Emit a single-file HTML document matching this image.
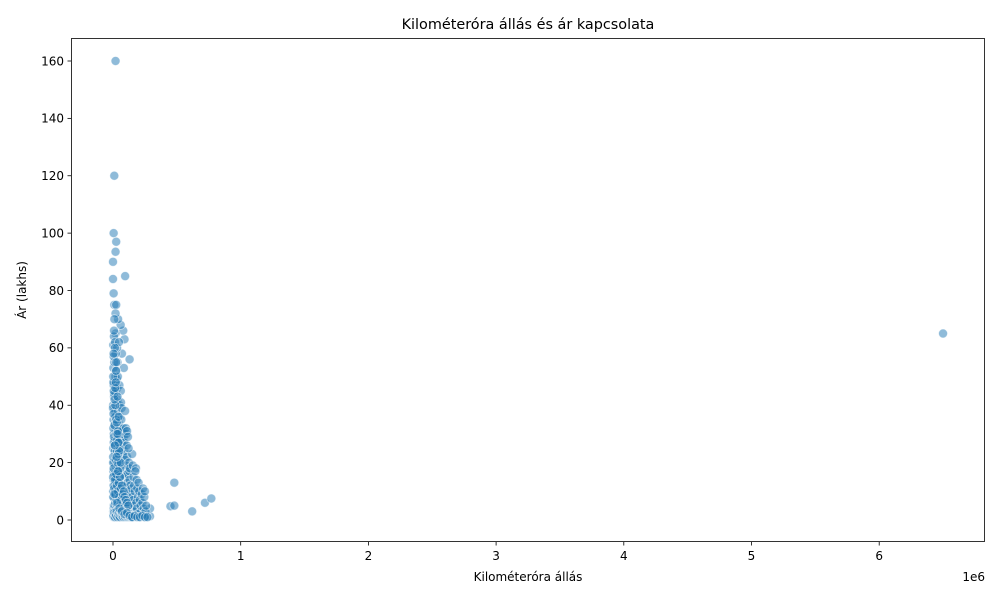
<!DOCTYPE html>
<html><head><meta charset="utf-8"><style>
body{margin:0;background:#fff;font-family:"Liberation Sans","DejaVu Sans",sans-serif}
text{font-family:"DejaVu Sans","Liberation Sans",sans-serif;fill:#000}
</style></head><body>
<svg id="chart" width="1000" height="600" xmlns="http://www.w3.org/2000/svg">
<rect width="1000" height="600" fill="#fff"/>
<text x="528" y="29" font-size="14.4" text-anchor="middle">Kilométeróra állás és ár kapcsolata</text>
<g id="marks"></g>
<rect x="71.5" y="38.5" width="913" height="503" fill="none" stroke="#000" stroke-width="0.8"/>
<g id="axes"></g>
<text x="528" y="581" font-size="12" text-anchor="middle">Kilométeróra állás</text>
<text x="985" y="581" font-size="12" text-anchor="end">1e6</text>
<text transform="translate(26,290) rotate(-90)" font-size="12" text-anchor="middle">Ár (lakhs)</text>
</svg>
<script>
const xTicks=[0,1,2,3,4,5,6];
const yTicks=[0,20,40,60,80,100,120,140,160];
// km in thousands
const kmK=[20,10,5,25,20,0,95,0,5,10,25,6500,480,450,480,620,720,770,290,290,130,90,80,60,40,20,85,70,
2,3,5,1,4,6,2,8,3,5,1,7,4,2,6,10,12,15,9,11,14,13,16,18,12,17,15,19,20,22,25,21,24,23,26,28,22,27,29,25,21,28,24,30,8,3,6,9,14,18,0,1,3,7,11,5,16,19,13,10,
32,35,38,33,36,40,42,45,37,44,48,34,41,46,39,43,50,52,55,58,51,54,57,60,53,56,59,62,50,65,68,70,66,72,75,69,74,78,64,71,47,61,63,67,76,79,38,44,49,58,
82,85,88,90,93,96,99,84,92,97,100,87,105,108,110,104,112,115,118,107,114,120,102,125,128,130,135,138,132,140,127,145,148,142,95,101,110,117,150,122,133,
155,160,165,170,158,168,175,162,180,185,190,195,182,188,198,200,205,210,215,220,208,225,230,235,240,245,250,232,255,260,248,175,192,
1,4,7,9,12,15,18,21,24,27,30,33,36,39,42,45,48,51,54,57,
2,5,8,11,14,17,20,23,26,29,32,35,38,41,44,47,50,53,56,59,
3,6,9,12,15,18,21,24,27,30,33,36,39,42,45,48,51,54,57,60,63,66,69,72,75,78,81,84,87,90,
1,5,10,15,20,25,30,35,40,45,50,55,60,65,70,75,80,85,90,95,100,105,110,115,120,
4,9,14,19,24,29,34,39,44,49,54,59,64,69,74,79,84,89,94,99,104,109,114,119,124,129,134,139,144,149,
10,30,50,70,90,110,130,150,170,190,210,230,250,270,
2,6,12,18,24,30,36,42,48,15,25,35,8,22,44,60,5,14,28,40];
const price=[160,120,100,97,93.5,90,85,84,79,75,75,65,13,4.8,5,3,6,7.5,1.3,4,56,63,66,68,70,72,53,58,
61,53,47,40,35,30,25,20,17,14,10,8,5,3,1,55,48,44,38,33,28,24,19,15,11,7,4,2,65,58,52,45,41,36,31,27,22,18,13,9,6,3,1,49,43,32,27,12,9,36,39,20,48,64,70,57,62,50,16,2,
60,55,50,46,42,38,34,30,26,22,18,14,10,7,4,2,47,40,36,32,28,25,21,17,13,9,6,3,1,35,31,28,24,20,16,12,8,5,2,1,62,45,41,39,26,22,17,12,8,3,
32,29,27,24,21,18,15,12,9,6,4,2,30,26,22,19,16,13,10,7,5,3,1,20,17,14,12,9,6,4,2,11,8,1,38,32,31,29,23,25,18,
19,15,12,10,7,5,3,1,18,14,11,8,6,4,2,13,10,7,5,3,1,9,6,11,4,8,10,2,3,5,1,17,2,
22,37,29,44,33,26,40,21,35,30,24,28,19,31,23,27,20,25,18,15,
8,12,5,16,9,13,6,11,14,7,10,4,9,12,6,8,5,7,3,6,
2,4,3,5,2,6,3,4,7,2,5,3,6,4,8,3,5,2,4,3,6,2,5,3,4,2,3,2,4,3,
15,18,11,14,9,16,12,20,10,13,8,15,11,7,12,9,6,10,8,5,7,4,6,3,5,
1.5,2.5,1,2,1.5,3,1,2,1.5,2.5,1,2,3,1.5,2,1,2.5,1.5,1,2,1.5,1,2,1,1.5,1,2,1,1.5,1,
9,6,4,3,2,2.5,1.5,1,1.5,1,1,1.5,1,1,
50,45,42,46,52,34,30,27,24,60,55,43,66,48,36,20,58,26,22,17];
const X0=113,XS=127.7/1e6,Y0=520,YS=459/160;
const sx=v=>X0+v*XS, sy=v=>Y0-v*YS;
const NS="http://www.w3.org/2000/svg";
const axes=document.getElementById('axes'), marks=document.getElementById('marks');
function mk(tag,attrs,parent){const e=document.createElementNS(NS,tag);for(const k in attrs)e.setAttribute(k,attrs[k]);parent.appendChild(e);return e;}
xTicks.forEach(t=>{const x=sx(t*1e6);
 const l=mk('line',{x1:x,x2:x,y1:542,y2:545.5,stroke:'#000','stroke-width':0.8},axes);
 
 
 const tx=mk('text',{x:x,y:560,'font-size':12,'text-anchor':'middle'},axes);tx.textContent=t;
 
 });
yTicks.forEach(t=>{const y=sy(t);
 const l=mk('line',{x1:67.5,x2:71,y1:y,y2:y,stroke:'#000','stroke-width':0.8},axes);
 
 
 const tx=mk('text',{x:64,y:y+4.3,'font-size':12,'text-anchor':'end'},axes);tx.textContent=t;
 
 });
kmK.forEach((k,i)=>{
 const c=mk('circle',{cx:sx(k*1000),cy:sy(price[i]),r:4.5,fill:'rgba(31,119,180,0.5)',stroke:'rgba(255,255,255,0.6)','stroke-width':0.8},marks);
 
 });
</script>
</body></html>
